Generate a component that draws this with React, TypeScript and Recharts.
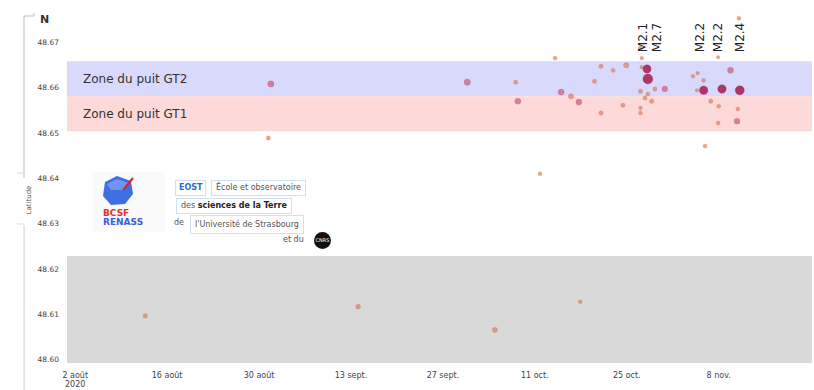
import React from 'react';
import {
  ScatterChart,
  Scatter,
  XAxis,
  YAxis,
  ReferenceArea,
} from 'recharts';

// seismic events: date (UTC), latitude, magnitude
const EVENT_DATES = [
  '2020-08-12T16:00Z', '2020-08-31T10:00Z', '2020-08-31T19:00Z', '2020-09-14T02:00Z',
  '2020-09-30T17:00Z', '2020-10-04T22:00Z', '2020-10-08T02:00Z', '2020-10-08T10:00Z',
  '2020-10-11T19:00Z', '2020-10-14T02:00Z', '2020-10-15T00:00Z', '2020-10-16T12:00Z',
  '2020-10-17T17:00Z', '2020-10-17T22:00Z', '2020-10-20T02:00Z', '2020-10-21T02:00Z',
  '2020-10-21T02:00Z', '2020-10-22T22:00Z', '2020-10-24T10:00Z', '2020-10-24T22:00Z',
  '2020-10-27T02:00Z', '2020-10-27T07:00Z', '2020-10-27T07:00Z', '2020-10-28T02:00Z',
  '2020-10-28T05:00Z', '2020-10-27T02:00Z', '2020-10-28T05:00Z', '2020-10-29T07:00Z',
  '2020-10-30T19:00Z', '2020-10-27T19:00Z', '2020-10-28T19:00Z', '2020-10-27T02:00Z',
  '2020-10-27T02:00Z', '2020-11-04T02:00Z', '2020-11-04T19:00Z', '2020-11-05T17:00Z',
  '2020-11-04T17:00Z', '2020-11-05T17:00Z', '2020-11-08T12:00Z', '2020-11-11T05:00Z',
  '2020-11-09T19:00Z', '2020-11-06T19:00Z', '2020-11-08T00:00Z', '2020-11-10T22:00Z',
  '2020-11-07T22:00Z', '2020-11-10T19:00Z', '2020-11-11T02:00Z', '2020-11-07T22:00Z',
  '2020-11-05T22:00Z',
];
const EVENT_LATS = [
  48.6097, 48.6489, 48.6608, 48.6117,
  48.6612, 48.6066, 48.6612, 48.657,
  48.641, 48.6665, 48.659, 48.6581,
  48.6568, 48.6128, 48.6614, 48.6647,
  48.6544, 48.6638, 48.6561, 48.6649,
  48.6687, 48.6665, 48.6645, 48.6641,
  48.6619, 48.6592, 48.6586, 48.6597,
  48.6597, 48.6577, 48.657, 48.6555,
  48.6544, 48.6625, 48.6632, 48.6616,
  48.6594, 48.6594, 48.6597, 48.6594,
  48.6638, 48.657, 48.6559, 48.6553,
  48.6522, 48.6526, 48.6753, 48.6667,
  48.6471,
];
const EVENT_MAGS = [
  0.8, 0.7, 1.4, 0.9,
  1.4, 1.0, 0.7, 1.3,
  0.6, 0.6, 1.3, 1.0,
  1.3, 0.6, 0.7, 0.7,
  0.7, 0.6, 0.7, 1.1,
  0.7, 0.5, 0.5, 2.1,
  2.7, 0.7, 0.6, 0.7,
  1.2, 0.7, 0.8, 0.5,
  0.6, 0.5, 0.5, 0.6,
  0.5, 2.2, 2.2, 2.4,
  1.3, 0.7, 0.6, 0.6,
  0.6, 1.2, 0.6, 0.4,
  0.6,
];

// magnitude labels above the strongest events
const LABEL_DATES = ['2020-10-28T02:00Z', '2020-10-30T05:00Z', '2020-11-05T17:00Z', '2020-11-08T12:00Z', '2020-11-11T19:00Z'];
const LABEL_TEXTS = ['M2.1', 'M2.7', 'M2.2', 'M2.2', 'M2.4'];
const LABEL_LAT = 48.6678;

const TICK_DATES = ['2020-08-02T00:00Z', '2020-08-16T00:00Z', '2020-08-30T00:00Z', '2020-09-13T00:00Z', '2020-09-27T00:00Z', '2020-10-11T00:00Z', '2020-10-25T00:00Z', '2020-11-08T00:00Z'];
const TICK_LABELS = ['2 août\n2020', '16 août', '30 août', '13 sept.', '27 sept.', '11 oct.', '25 oct.', '8 nov.'];
const LAT_TICKS = [48.6, 48.61, 48.62, 48.63, 48.64, 48.65, 48.66, 48.67];
const X_DOMAIN = ['2020-07-31T18:00Z', '2020-11-22T05:00Z'];
const LAT_DOMAIN = [48.5993, 48.676];

// zones (latitude ranges)
const ZONE_GT2 = [48.6581, 48.6658];
const ZONE_GT1 = [48.6504, 48.6581];
const ZONE_GREY = [48.5993, 48.6229];

const ts = (s: string) => Date.parse(s);

const events = EVENT_DATES.map((d, i) => ({ x: ts(d), y: EVENT_LATS[i], mag: EVENT_MAGS[i] }));
const labels = LABEL_DATES.map((d, i) => ({ x: ts(d), y: LABEL_LAT, text: LABEL_TEXTS[i] }));
const tickValues = TICK_DATES.map(ts);

function magColor(m: number) {
  if (m >= 2) return '#a3194a';
  if (m >= 1.2) return '#c24c62';
  return '#d9724f';
}

function EventDot(props: any) {
  const { cx, cy, payload } = props;
  const m = payload.mag;
  return (
    <circle
      cx={cx}
      cy={cy}
      r={1.2 + 1.4 * m}
      fill={magColor(m)}
      fillOpacity={m >= 2 ? 0.85 : 0.62}
      stroke={magColor(m)}
      strokeOpacity={0.4}
      strokeWidth={0.6}
    />
  );
}

function MagLabel(props: any) {
  const { cx, cy, payload } = props;
  return (
    <text
      x={cx}
      y={cy}
      transform={`rotate(-90 ${cx} ${cy})`}
      fontSize={12}
      fill="#222"
      fontFamily="DejaVu Sans"
    >
      {payload.text}
    </text>
  );
}

function DateTick({ x, y, payload }: any) {
  const i = tickValues.indexOf(payload.value);
  const lines = (TICK_LABELS[i] || '').split('\n');
  return (
    <text x={x} y={y} textAnchor="middle" fontSize={8} fill="#444" fontFamily="DejaVu Sans">
      {lines.map((l, k) => (
        <tspan key={k} x={x} dy={k === 0 ? 7 : 9}>
          {l}
        </tspan>
      ))}
    </text>
  );
}

const boxStyle: React.CSSProperties = {
  position: 'absolute',
  border: '1px solid #cfe0f2',
  background: '#fff',
  fontSize: 8,
  color: '#555',
  fontFamily: 'DejaVu Sans',
  whiteSpace: 'nowrap',
  lineHeight: '14px',
  padding: '0 4px',
};

function Logos() {
  return (
    <>
      <div style={{ position: 'absolute', left: 93, top: 172, width: 72, height: 60, background: '#fafafa' }} />
      <svg style={{ position: 'absolute', left: 93, top: 172 }} width={72} height={60}>
        <polygon points="12,10 24,4 38,9 40,22 32,32 18,33 10,24" fill="#3f6fe2" />
        <polygon points="14,12 24,7 36,11 30,18 18,18" fill="#6f95f0" />
        <line x1="30" y1="18" x2="40" y2="6" stroke="#e0202a" strokeWidth={2} />
        <text x={10} y={44} fontSize={9} fontWeight="bold" fill="#e03030" fontFamily="DejaVu Sans">BCSF</text>
        <text x={10} y={53} fontSize={9} fontWeight="bold" fill="#3a5ee0" fontFamily="DejaVu Sans">RENASS</text>
      </svg>
      <div style={{ ...boxStyle, left: 175, top: 180, color: '#2a6cc4', fontWeight: 'bold', padding: '0 3px' }}>EOST</div>
      <div style={{ ...boxStyle, left: 211, top: 180 }}>École et observatoire</div>
      <div style={{ ...boxStyle, left: 176, top: 198 }}>
        des <b style={{ color: '#222' }}>sciences de la Terre</b>
      </div>
      <div style={{ ...boxStyle, border: 'none', background: 'transparent', left: 170, top: 216 }}>de</div>
      <div style={{ ...boxStyle, left: 190, top: 215, lineHeight: '17px' }}>l'Université de Strasbourg</div>
      <div style={{ ...boxStyle, border: 'none', background: 'transparent', left: 279, top: 233 }}>et du</div>
      <div
        style={{
          position: 'absolute',
          left: 314,
          top: 232,
          width: 17,
          height: 17,
          borderRadius: '50%',
          background: '#111',
          color: '#fff',
          fontSize: 5,
          lineHeight: '17px',
          textAlign: 'center',
          fontFamily: 'DejaVu Sans',
        }}
      >
        CNRS
      </div>
    </>
  );
}

function AxisDecor() {
  return (
    <svg style={{ position: 'absolute', left: 0, top: 0 }} width={60} height={390}>
      <polyline points="24,178 24,16 34,16 34,13" fill="none" stroke="#bbb" strokeWidth={1} />
      <line x1={24} y1={225} x2={24} y2={390} stroke="#ccc" strokeWidth={1} />
      <line x1={17} y1={173} x2={24} y2={173} stroke="#ddd" strokeWidth={1} />
      <line x1={17} y1={224} x2={24} y2={224} stroke="#ddd" strokeWidth={1} />
      <text x={40} y={23} fontSize={11} fontWeight="bold" fill="#333" fontFamily="DejaVu Sans">N</text>
      <text
        x={31}
        y={200}
        transform="rotate(-90 31 200)"
        textAnchor="middle"
        fontSize={7}
        fill="#555"
        fontFamily="DejaVu Sans"
      >
        Latitude
      </text>
    </svg>
  );
}

export default function App() {
  return (
    <div style={{ position: 'absolute', left: 0, top: 0, width: 814, height: 390, background: '#fff', overflow: 'hidden' }}>
      <ScatterChart width={814} height={390} margin={{ top: 15, right: 2, bottom: 0, left: 0 }}>
        <XAxis
          type="number"
          dataKey="x"
          domain={X_DOMAIN.map(ts)}
          ticks={tickValues}
          interval={0}
          tick={<DateTick />}
          tickLine={false}
          axisLine={false}
          height={27}
          allowDataOverflow
        />
        <YAxis
          type="number"
          dataKey="y"
          domain={LAT_DOMAIN}
          ticks={LAT_TICKS}
          interval={0}
          tickFormatter={(v: number) => v.toFixed(2)}
          tick={{ fontSize: 7.5, fill: '#444', fontFamily: 'DejaVu Sans' }}
          tickLine={false}
          axisLine={false}
          width={67}
          allowDataOverflow
        />
        <ReferenceArea
          y1={ZONE_GREY[0]}
          y2={ZONE_GREY[1]}
          fill="#d9d9d9"
          fillOpacity={1}
          stroke="none"
        />
        <ReferenceArea
          y1={ZONE_GT2[0]}
          y2={ZONE_GT2[1]}
          fill="#d9d9fb"
          fillOpacity={1}
          stroke="none"
          label={{ value: 'Zone du puit GT2', position: 'insideLeft', offset: 16, fontSize: 12, fill: '#333', fontFamily: 'DejaVu Sans' }}
        />
        <ReferenceArea
          y1={ZONE_GT1[0]}
          y2={ZONE_GT1[1]}
          fill="#fdd9d9"
          fillOpacity={1}
          stroke="none"
          label={{ value: 'Zone du puit GT1', position: 'insideLeft', offset: 16, fontSize: 12, fill: '#333', fontFamily: 'DejaVu Sans' }}
        />
        <Scatter data={events} shape={<EventDot />} isAnimationActive={false} />
        <Scatter data={labels} shape={<MagLabel />} isAnimationActive={false} />
      </ScatterChart>
      <AxisDecor />
      <Logos />
    </div>
  );
}
